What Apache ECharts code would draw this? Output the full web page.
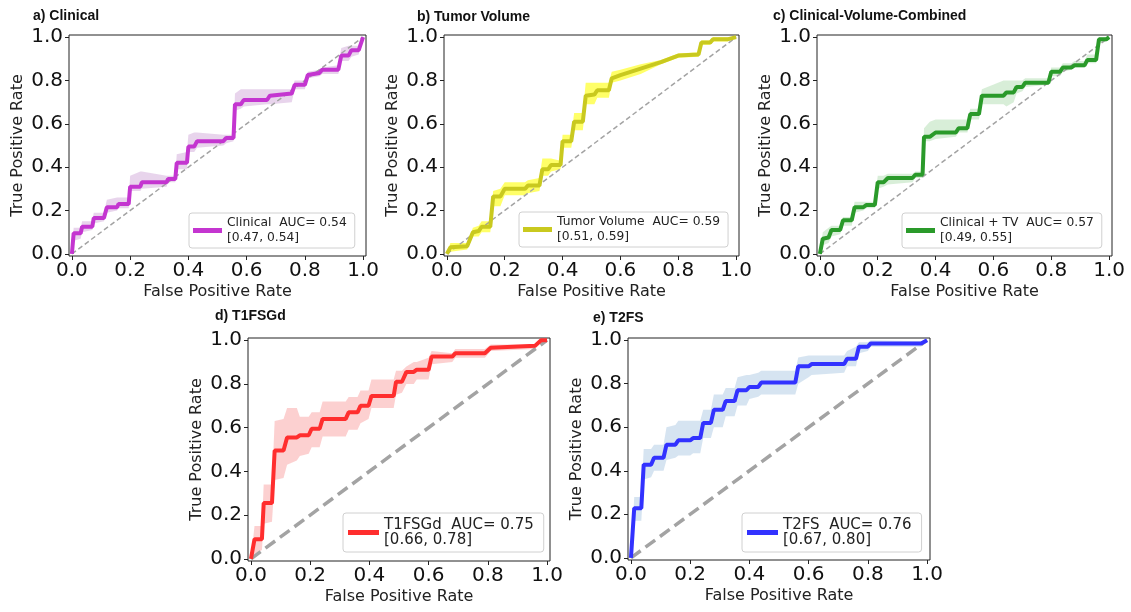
<!DOCTYPE html>
<html>
<head>
<meta charset="utf-8">
<script src="https://cdn.jsdelivr.net/npm/echarts@6/dist/echarts.min.js"></script>
<style>
  html, body { margin: 0; padding: 0; background: #fff; }
  #chart { width: 1131px; height: 612px; }
</style>
</head>
<body>
<div id="chart"></div>
<script>
// tick labels shared by every panel
const tickVals = [0, 0.2, 0.4, 0.6, 0.8, 1.0];

const panelTitles = ['a) Clinical', 'b) Tumor Volume', 'c) Clinical-Volume-Combined', 'd) T1FSGd', 'e) T2FS'];
const seriesNames = ['Clinical', 'Tumor Volume', 'Clinical + TV', 'T1FSGd', 'T2FS'];
const aucVals = [0.54, 0.59, 0.57, 0.75, 0.76];
const ciLow = [0.47, 0.51, 0.49, 0.66, 0.67];
const ciHigh = [0.54, 0.59, 0.55, 0.78, 0.80];

// a) Clinical - mean ROC vertices + band
const clinicalFpr = [0, 0.006, 0.03, 0.035, 0.07, 0.075, 0.11, 0.12, 0.155, 0.16, 0.195, 0.2, 0.235, 0.24, 0.325, 0.33, 0.355, 0.36, 0.395, 0.40, 0.42, 0.43, 0.52, 0.53, 0.555, 0.56, 0.58, 0.59, 0.67, 0.68, 0.755, 0.765, 0.80, 0.81, 0.85, 0.86, 0.915, 0.925, 0.95, 0.96, 0.985, 1.0];
const clinicalTpr = [0, 0.095, 0.095, 0.125, 0.125, 0.165, 0.165, 0.215, 0.215, 0.23, 0.23, 0.31, 0.31, 0.33, 0.33, 0.345, 0.345, 0.42, 0.42, 0.495, 0.495, 0.52, 0.52, 0.535, 0.535, 0.69, 0.69, 0.71, 0.71, 0.73, 0.74, 0.78, 0.78, 0.825, 0.835, 0.85, 0.85, 0.915, 0.915, 0.94, 0.94, 1.0];
const clinicalLo = [0, 0.06, 0.07, 0.10, 0.11, 0.14, 0.15, 0.19, 0.20, 0.21, 0.21, 0.29, 0.29, 0.30, 0.31, 0.33, 0.33, 0.39, 0.39, 0.47, 0.47, 0.49, 0.50, 0.51, 0.52, 0.66, 0.67, 0.68, 0.69, 0.69, 0.70, 0.76, 0.76, 0.81, 0.82, 0.83, 0.83, 0.89, 0.89, 0.91, 0.92, 1.0];
const clinicalHi = [0, 0.12, 0.12, 0.15, 0.15, 0.19, 0.19, 0.25, 0.26, 0.26, 0.26, 0.36, 0.38, 0.38, 0.36, 0.36, 0.36, 0.46, 0.47, 0.55, 0.56, 0.56, 0.55, 0.55, 0.55, 0.74, 0.76, 0.76, 0.76, 0.76, 0.76, 0.80, 0.80, 0.84, 0.85, 0.86, 0.87, 0.95, 0.96, 0.96, 0.96, 1.0];

// b) Tumor Volume
const volumeFpr = [0, 0.012, 0.07, 0.09, 0.11, 0.12, 0.15, 0.16, 0.185, 0.2, 0.27, 0.28, 0.32, 0.33, 0.35, 0.36, 0.393, 0.40, 0.43, 0.44, 0.47, 0.48, 0.51, 0.52, 0.56, 0.57, 0.60, 0.67, 0.74, 0.80, 0.87, 0.88, 0.91, 0.92, 0.97, 1.0];
const volumeTpr = [0, 0.03, 0.035, 0.10, 0.105, 0.125, 0.125, 0.265, 0.265, 0.30, 0.30, 0.315, 0.315, 0.39, 0.39, 0.41, 0.41, 0.52, 0.52, 0.61, 0.61, 0.73, 0.735, 0.755, 0.755, 0.81, 0.825, 0.855, 0.885, 0.915, 0.92, 0.975, 0.975, 0.99, 0.99, 1.0];
const volumeLo = [0, 0.01, 0.02, 0.08, 0.08, 0.10, 0.10, 0.22, 0.22, 0.27, 0.27, 0.28, 0.29, 0.36, 0.36, 0.38, 0.39, 0.49, 0.49, 0.57, 0.57, 0.69, 0.69, 0.72, 0.72, 0.79, 0.80, 0.83, 0.875, 0.905, 0.91, 0.965, 0.965, 0.98, 0.98, 1.0];
const volumeHi = [0, 0.05, 0.05, 0.12, 0.13, 0.15, 0.15, 0.29, 0.30, 0.33, 0.33, 0.34, 0.35, 0.44, 0.44, 0.44, 0.43, 0.55, 0.55, 0.65, 0.65, 0.79, 0.79, 0.79, 0.79, 0.84, 0.85, 0.875, 0.895, 0.925, 0.93, 0.985, 0.985, 1.0, 1.0, 1.0];

// c) Clinical + TV
const combinedFpr = [0, 0.01, 0.03, 0.04, 0.07, 0.08, 0.11, 0.12, 0.15, 0.16, 0.19, 0.20, 0.22, 0.235, 0.32, 0.33, 0.355, 0.36, 0.38, 0.40, 0.47, 0.48, 0.51, 0.52, 0.55, 0.56, 0.635, 0.645, 0.67, 0.68, 0.70, 0.71, 0.79, 0.80, 0.83, 0.84, 0.87, 0.88, 0.915, 0.925, 0.955, 0.965, 0.99, 1.0];
const combinedTpr = [0, 0.07, 0.075, 0.11, 0.11, 0.155, 0.155, 0.215, 0.215, 0.225, 0.225, 0.33, 0.33, 0.35, 0.35, 0.365, 0.365, 0.54, 0.54, 0.56, 0.56, 0.58, 0.58, 0.645, 0.645, 0.73, 0.73, 0.745, 0.745, 0.77, 0.77, 0.79, 0.79, 0.84, 0.84, 0.86, 0.86, 0.87, 0.87, 0.895, 0.895, 0.99, 0.99, 1.0];
const combinedLo = [0, 0.04, 0.05, 0.08, 0.09, 0.13, 0.13, 0.19, 0.20, 0.21, 0.21, 0.30, 0.31, 0.32, 0.33, 0.35, 0.35, 0.52, 0.52, 0.53, 0.54, 0.56, 0.56, 0.62, 0.62, 0.69, 0.69, 0.68, 0.70, 0.74, 0.75, 0.77, 0.78, 0.82, 0.82, 0.84, 0.85, 0.86, 0.86, 0.88, 0.88, 0.97, 0.98, 1.0];
const combinedHi = [0, 0.10, 0.12, 0.13, 0.13, 0.17, 0.17, 0.24, 0.24, 0.24, 0.24, 0.36, 0.36, 0.37, 0.37, 0.38, 0.38, 0.58, 0.61, 0.62, 0.62, 0.62, 0.62, 0.67, 0.67, 0.76, 0.80, 0.80, 0.80, 0.80, 0.80, 0.81, 0.81, 0.86, 0.86, 0.88, 0.88, 0.89, 0.89, 0.92, 0.92, 1.0, 1.0, 1.0];

// d) T1FSGd
const t1Fpr = [0, 0.012, 0.037, 0.043, 0.071, 0.08, 0.11, 0.122, 0.155, 0.165, 0.195, 0.205, 0.232, 0.242, 0.32, 0.33, 0.36, 0.37, 0.397, 0.407, 0.482, 0.49, 0.51, 0.525, 0.55, 0.56, 0.60, 0.61, 0.68, 0.69, 0.79, 0.81, 0.96, 0.98, 1.0];
const t1Tpr = [0, 0.09, 0.09, 0.255, 0.255, 0.495, 0.495, 0.555, 0.555, 0.565, 0.565, 0.595, 0.595, 0.64, 0.64, 0.67, 0.67, 0.70, 0.70, 0.745, 0.745, 0.81, 0.81, 0.855, 0.855, 0.865, 0.865, 0.925, 0.925, 0.94, 0.94, 0.965, 0.975, 1.0, 1.0];
const t1Lo = [0, 0.02, 0.04, 0.16, 0.17, 0.36, 0.37, 0.43, 0.45, 0.47, 0.48, 0.51, 0.51, 0.56, 0.56, 0.59, 0.59, 0.62, 0.64, 0.69, 0.69, 0.75, 0.76, 0.80, 0.80, 0.82, 0.82, 0.89, 0.90, 0.92, 0.92, 0.95, 0.96, 0.99, 1.0];
const t1Hi = [0, 0.15, 0.15, 0.34, 0.34, 0.63, 0.64, 0.69, 0.69, 0.65, 0.65, 0.67, 0.67, 0.72, 0.72, 0.74, 0.74, 0.77, 0.77, 0.82, 0.82, 0.86, 0.86, 0.88, 0.90, 0.90, 0.92, 0.95, 0.94, 0.96, 0.96, 0.98, 0.98, 1.0, 1.0];

// e) T2FS
const t2Fpr = [0, 0.011, 0.035, 0.043, 0.068, 0.078, 0.11, 0.12, 0.15, 0.16, 0.20, 0.21, 0.234, 0.244, 0.27, 0.28, 0.31, 0.32, 0.35, 0.36, 0.39, 0.40, 0.43, 0.44, 0.555, 0.565, 0.60, 0.61, 0.72, 0.73, 0.76, 0.77, 0.80, 0.81, 0.98, 1.0];
const t2Tpr = [0, 0.228, 0.228, 0.428, 0.428, 0.46, 0.46, 0.52, 0.52, 0.54, 0.54, 0.55, 0.55, 0.62, 0.62, 0.68, 0.68, 0.72, 0.72, 0.77, 0.77, 0.785, 0.785, 0.805, 0.805, 0.88, 0.88, 0.89, 0.89, 0.915, 0.915, 0.97, 0.97, 0.985, 0.985, 1.0];
const t2Lo = [0, 0.17, 0.17, 0.36, 0.37, 0.40, 0.40, 0.45, 0.46, 0.47, 0.47, 0.48, 0.48, 0.55, 0.55, 0.60, 0.60, 0.65, 0.65, 0.70, 0.70, 0.73, 0.74, 0.75, 0.75, 0.80, 0.83, 0.84, 0.85, 0.88, 0.88, 0.94, 0.95, 0.97, 0.97, 1.0];
const t2Hi = [0, 0.28, 0.28, 0.50, 0.50, 0.52, 0.52, 0.60, 0.61, 0.63, 0.63, 0.63, 0.63, 0.68, 0.68, 0.75, 0.75, 0.78, 0.78, 0.83, 0.84, 0.84, 0.85, 0.86, 0.86, 0.92, 0.93, 0.93, 0.93, 0.95, 0.97, 0.99, 0.99, 1.0, 0.995, 1.0];

const curves = [
  { fpr: clinicalFpr, tpr: clinicalTpr, lo: clinicalLo, hi: clinicalHi },
  { fpr: volumeFpr, tpr: volumeTpr, lo: volumeLo, hi: volumeHi },
  { fpr: combinedFpr, tpr: combinedTpr, lo: combinedLo, hi: combinedHi },
  { fpr: t1Fpr, tpr: t1Tpr, lo: t1Lo, hi: t1Hi },
  { fpr: t2Fpr, tpr: t2Tpr, lo: t2Lo, hi: t2Hi }
];

// styling / placement per panel
const panels = [
  { grid: { left: 69, top: 35, width: 297, height: 221 }, title: [33, 9], legend: [189, 213], line: '#c435d0', band: 'rgba(150,60,170,0.22)', big: false },
  { grid: { left: 444, top: 35, width: 295, height: 221 }, title: [417, 10], legend: [519, 212], line: '#c9c91f', band: 'rgba(255,255,40,0.7)', big: false },
  { grid: { left: 817, top: 35, width: 295, height: 221 }, title: [773, 9], legend: [902, 213], line: '#2a9a2a', band: 'rgba(60,170,60,0.2)', big: false },
  { grid: { left: 248, top: 338, width: 302, height: 223 }, title: [215, 309], legend: [343, 513], line: '#ff2e2e', band: 'rgba(245,80,80,0.27)', big: true },
  { grid: { left: 628, top: 338, width: 302, height: 222 }, title: [593, 311], legend: [742, 513], line: '#3232ff', band: 'rgba(70,130,190,0.22)', big: true }
];

const font = 'DejaVu Sans';

function bandRenderer(c, color) {
  return function (params, api) {
    if (params.dataIndex !== 0) return null;
    const pts = [];
    for (let i = 0; i < c.fpr.length; i++) pts.push(api.coord([c.fpr[i], c.hi[i]]));
    for (let i = c.fpr.length - 1; i >= 0; i--) pts.push(api.coord([c.fpr[i], c.lo[i]]));
    return { type: 'polygon', shape: { points: pts }, style: { fill: color } };
  };
}

function axisCommon(name, isX, p) {
  return {
    type: 'value',
    gridIndex: p,
    min: -0.01,
    max: 1.01,
    name: name,
    nameLocation: 'middle',
    nameGap: isX ? 28 : 43,
    nameTextStyle: { fontFamily: font, fontSize: 16, color: '#222' },
    axisLine: { show: false, onZero: false },
    axisTick: { show: true, customValues: tickVals, length: 4, lineStyle: { color: '#222', width: 1 } },
    axisLabel: {
      customValues: tickVals,
      formatter: v => v.toFixed(1),
      fontFamily: font, fontSize: 20, color: '#111',
      margin: isX ? 5 : 6
    },
    splitLine: { show: false }
  };
}

const option = {
  animation: false,
  backgroundColor: '#fff',
  title: panels.map((pn, i) => ({
    text: panelTitles[i],
    left: pn.title[0], top: pn.title[1], padding: 0,
    textStyle: { fontFamily: 'Liberation Sans', fontWeight: 'bold', fontSize: 14, color: '#111' }
  })),
  grid: panels.map(pn => Object.assign({ show: true, borderColor: '#222', borderWidth: 1, backgroundColor: '#fff' }, pn.grid)),
  xAxis: panels.map((pn, i) => axisCommon('False Positive Rate', true, i)),
  yAxis: panels.map((pn, i) => axisCommon('True Positive Rate', false, i)),
  legend: panels.map((pn, i) => ({
    data: [seriesNames[i]],
    left: pn.legend[0], top: pn.legend[1],
    orient: 'vertical',
    icon: 'rect',
    itemWidth: pn.big ? 31 : 29,
    itemHeight: 5,
    padding: pn.big ? [4, 10, 4, 5] : [3, 8, 3, 4],
    backgroundColor: '#fff',
    borderColor: '#d0d0d0',
    borderWidth: 1,
    borderRadius: 3,
    selectedMode: false,
    formatter: name => name + '  AUC= ' + aucVals[i].toFixed(2) + '\n[' + ciLow[i].toFixed(2) + ', ' + ciHigh[i].toFixed(2) + ']',
    textStyle: {
      fontFamily: font,
      fontSize: pn.big ? 15 : 12.3,
      lineHeight: pn.big ? 15.5 : 14.5,
      color: '#222'
    }
  })),
  series: []
};

curves.forEach((c, i) => {
  const pn = panels[i];
  option.series.push({
    type: 'custom',
    xAxisIndex: i, yAxisIndex: i,
    z: 1,
    silent: true,
    renderItem: bandRenderer(c, pn.band),
    encode: { x: 0, y: [1, 2] },
    data: c.fpr.map((x, k) => [x, c.lo[k], c.hi[k]])
  });
  option.series.push({
    type: 'line',
    xAxisIndex: i, yAxisIndex: i,
    z: 2,
    silent: true,
    symbol: 'none',
    lineStyle: { color: '#a3a3a3', width: pn.big ? 3.5 : 1.5, type: pn.big ? [12, 6] : [5, 3] },
    data: [[0, 0], [1, 1]]
  });
  option.series.push({
    name: seriesNames[i],
    type: 'line',
    xAxisIndex: i, yAxisIndex: i,
    z: 3,
    symbol: 'none',
    color: pn.line,
    lineStyle: { color: pn.line, width: 4 },
    data: c.fpr.map((x, k) => [x, c.tpr[k]])
  });
});

const chart = echarts.init(document.getElementById('chart'), null, { renderer: 'canvas' });
chart.setOption(option);
</script>
</body>
</html>
